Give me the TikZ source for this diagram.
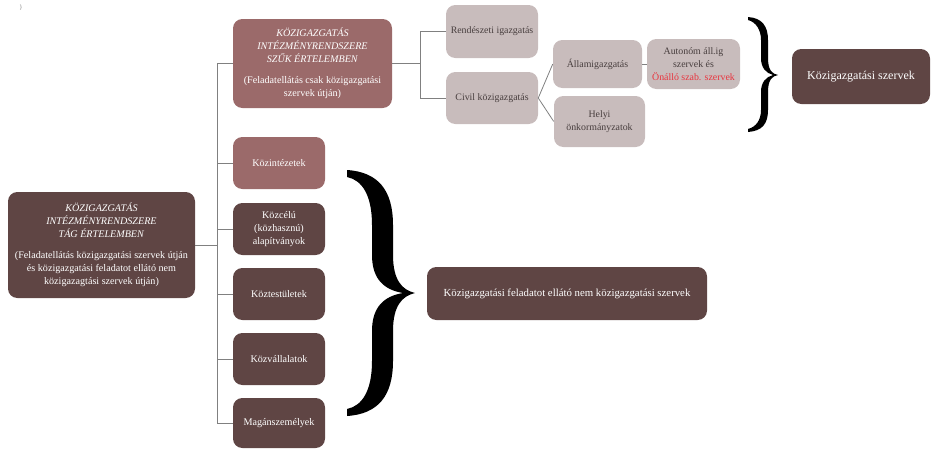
\documentclass[tikz,border=0pt]{standalone}
\usepackage{fontspec}
\setmainfont{Liberation Serif}
\definecolor{darkbox}{RGB}{95,69,68}
\definecolor{mauvebox}{RGB}{155,106,106}
\definecolor{lightbox}{RGB}{200,188,188}
\definecolor{lighttext}{RGB}{72,62,62}
\definecolor{redtext}{RGB}{232,52,62}
\definecolor{connc}{RGB}{128,128,128}
\tikzset{
  basebox/.style={rounded corners=7pt, inner sep=1pt, align=center, font=\fontsize{7.6}{9.75}\selectfont},
  darkb/.style={basebox, fill=darkbox, text=white},
  mauveb/.style={basebox, fill=mauvebox, text=white},
  lightb/.style={basebox, fill=lightbox, text=lighttext, font=\fontsize{7.4}{9.75}\selectfont},
  conn/.style={draw=connc, line width=0.6pt},
  bracefill/.style={fill=black, draw=none}
}
\newcommand\bx[7]{\node[#6, minimum width={(#4-#2)*0.75pt}, minimum height={(#5-#3)*0.75pt}] (#1) at ({(#2+#4)/2},{(#3+#5)/2}) {#7};}
\begin{document}
\begin{tikzpicture}[x=0.75pt,y=-0.75pt]
\useasboundingbox (0,0) rectangle (935,450);
\node[text=gray, font=\fontsize{5}{6}\selectfont] (tiny) at (21,8) {\}};
% left main
\bx{L}{8}{192}{195}{298}{darkb}{\textit{KÖZIGAZGATÁS}\\\textit{INTÉZMÉNYRENDSZERE}\\\textit{TÁG ÉRTELEMBEN}\\[6pt](Feladatellátás közigazgatási szervek útján\\és közigazgatási feladatot ellátó nem\\közigazagtási szervek útján)}
% top
\bx{S}{233}{19}{392}{108}{mauveb}{\textit{KÖZIGAZGATÁS}\\\textit{INTÉZMÉNYRENDSZERE}\\\textit{SZŰK ÉRTELEMBEN}\\[6pt](Feladatellátás csak közigazgatási\\szervek útján)}
% column
\bx{K1}{233}{137}{325}{189}{mauveb}{Közintézetek}
\bx{K2}{233}{203}{325}{255}{darkb}{Közcélú\\(közhasznú)\\alapítványok}
\bx{K3}{233}{268}{325}{320}{darkb}{Köztestületek}
\bx{K4}{233}{333}{325}{385}{darkb}{Közvállalatok}
\bx{K5}{233}{398}{325}{448}{darkb}{Magánszemélyek}
% light boxes
\bx{R}{446}{5}{538}{58}{lightb}{Rendészeti igazgatás}
\bx{C}{446}{72}{538}{124}{lightb}{Civil közigazgatás}
\bx{A}{553}{40}{642}{88}{lightb}{Államigazgatás}
\bx{H}{554}{96}{645}{147}{lightb}{Helyi\\önkormányzatok}
\bx{Au}{647}{39}{740}{89}{lightb}{Autonóm áll.ig\\szervek és\\\textcolor{redtext}{Önálló szab. szervek}}
% right boxes
\bx{KSz}{792}{49}{930}{104}{darkb, font=\fontsize{9}{11}\selectfont}{Közigazgatási szervek}
\bx{KF}{427}{267}{707}{320}{darkb, font=\fontsize{8.1}{10}\selectfont}{Közigazgatási feladatot ellátó nem közigazgatási szervek}
% connectors
\coordinate (trunk) at (217,0);
\coordinate (trunk2) at (420,0);
\draw[conn] (L.east) -- (L.east -| trunk);
\draw[conn] (S.west -| trunk) -- (K5.west -| trunk);
\foreach \b in {S,K1,K2,K3,K4,K5} {\draw[conn] (\b.west) -- (\b.west -| trunk);}
\draw[conn] (S.east) -- (S.east -| trunk2);
\draw[conn] (R.west -| trunk2) -- (C.west -| trunk2);
\draw[conn] (R.west) -- (R.west -| trunk2);
\draw[conn] (C.west) -- (C.west -| trunk2);
\draw[conn] (C.east) -- (A.west);
\draw[conn] (C.east) -- (H.west);
\draw[conn] (A.east) -- (Au.west);
% small brace
\path[bracefill] (748,17) .. controls (762,18) and (768,26) .. (768,40) -- (768,58) .. controls (768,70) and (772,74) .. (778,75) .. controls (772,76) and (768,80) .. (768,92) -- (768,110) .. controls (768,124) and (762,131) .. (748,132) -- (748,129) .. controls (756,127) and (761,120) .. (761,110) -- (761,92) .. controls (761,82) and (766,77) .. (773,75) .. controls (766,73) and (761,68) .. (761,58) -- (761,40) .. controls (761,30) and (756,22) .. (748,20) -- cycle;
% big brace
\path[bracefill] (347,170) .. controls (378,172) and (393,190) .. (393,225) -- (393,255) .. controls (393,280) and (402,290) .. (415,293) .. controls (402,296) and (393,306) .. (393,331) -- (393,361) .. controls (393,396) and (378,414) .. (347,416) -- (347,409) .. controls (362,406) and (372,391) .. (372,361) -- (372,331) .. controls (372,306) and (385,296) .. (403,293) .. controls (385,290) and (372,280) .. (372,255) -- (372,225) .. controls (372,195) and (362,180) .. (347,177) -- cycle;
\end{tikzpicture}
\end{document}
